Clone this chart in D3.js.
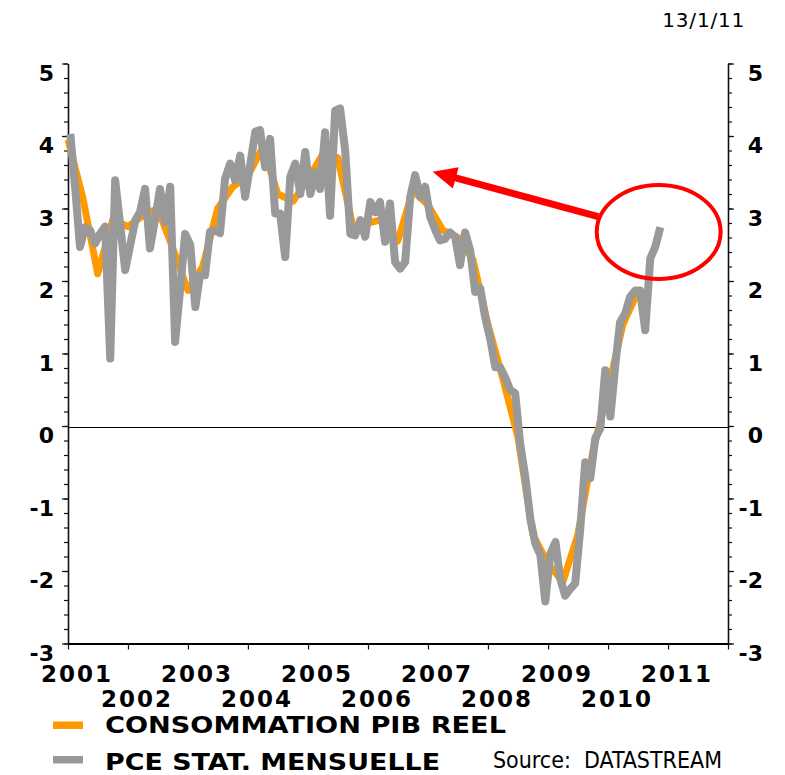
<!DOCTYPE html>
<html lang="fr">

<head>
    <meta charset="UTF-8">
    <title>Consommation PIB reel vs PCE</title>
    <script src="https://d3js.org/d3.v7.min.js"></script>
    <style>
        body { margin: 0; background: #fff; }
        text { font-family: "DejaVu Sans", Verdana, sans-serif; }
    </style>
</head>

<body>

    <svg></svg>

    <script>

        // Monthly PCE y/y growth (%), Jan 2001 -> Nov 2010
        const pceMonthly = [
            4.03, 3.25, 2.47, 2.74, 2.70, 2.52, 2.65, 2.75, 0.93, 3.39, 2.77, 2.15,
            2.50, 2.84, 2.95, 3.27, 2.45, 2.85, 3.27, 2.81, 3.30, 1.16, 1.90, 2.65,
            2.50, 1.64, 2.08, 2.08, 2.68, 2.70, 2.66, 3.41, 3.62, 3.39, 3.73, 3.16,
            3.60, 4.06, 4.08, 3.57, 3.96, 2.93, 2.93, 2.33, 3.44, 3.62, 3.20, 3.78,
            3.20, 3.50, 3.27, 4.05, 2.90, 4.35, 4.38, 3.80, 2.65, 2.63, 2.84, 2.61,
            3.09, 2.95, 3.09, 2.54, 3.07, 2.26, 2.17, 2.26, 3.16, 3.46, 3.16, 3.30,
            2.88, 2.70, 2.56, 2.58, 2.67, 2.61, 2.22, 2.67, 2.42, 1.85, 1.90, 1.50,
            1.20, 0.81, 0.81, 0.67, 0.50, 0.45, -0.24, -0.70, -1.28, -1.62, -1.78, -2.42,
            -1.76, -1.60, -2.10, -2.34, -2.25, -2.17, -1.44, -0.50, -0.72, -0.17, -0.03, 0.77,
            0.13, 0.86, 1.43, 1.55, 1.78, 1.87, 1.87, 1.32, 2.31, 2.47, 2.74
        ];

        // Quarterly real consumption (GDP accounts) y/y growth (%), Q1 2001 -> Q3 2010
        const pibQuarterly = [
            3.95, 3.15, 2.10, 2.85, 2.75, 2.90, 3.00, 2.45,
            1.87, 2.20, 3.00, 3.30, 3.45, 3.85, 3.20, 3.10,
            3.40, 3.75, 3.70, 2.75, 2.80, 2.85, 2.55, 3.25,
            3.05, 2.70, 2.60, 2.30, 1.40, 0.65, -0.15, -1.50,
            -1.90, -2.15, -1.50, -0.35, 0.50, 1.40, 1.85
        ];

        const yTicks = [-3, -2, -1, 0, 1, 2, 3, 4, 5];
        const yearTicks = [2001, 2002, 2003, 2004, 2005, 2006, 2007, 2008, 2009, 2010, 2011, 2012];
        const yearLabelsTop = ["2001", "2003", "2005", "2007", "2009", "2011"];
        const yearLabelsBottom = ["2002", "2004", "2006", "2008", "2010"];
        const seriesNames = ["CONSOMMATION PIB REEL", "PCE STAT. MENSUELLE"];
        const seriesColors = ["#ff9900", "#999999"];
        const dateLabel = "13/1/11";
        const sourceLabel = "Source:\u00a0\u00a0DATASTREAM";

        // Dimensions and margin
        const margin = { top: 63.5, right: 57, bottom: 131.5, left: 68 };
        const width = 785 - margin.left - margin.right;
        const height = 775 - margin.top - margin.bottom;

        const svgRoot = d3.select("svg")
            .attr("width", 785)
            .attr("height", 775);

        const svg = svgRoot.append("g")
            .attr("transform", `translate(${margin.left}, ${margin.top})`);

        // Scales
        const x = d3.scaleTime()
            .domain([new Date(2001, 0, 1), new Date(2012, 0, 1)])
            .range([0, width]);

        const y = d3.scaleLinear()
            .domain([-3, 5])
            .range([height, 0]);

        const monthly = pceMonthly.map((v, i) => ({ date: new Date(2001, i, 15), value: v }));
        const quarterly = pibQuarterly.map((v, i) => ({ date: new Date(2001, i * 3, 1), value: v }));

        // Zero line
        svg.append("line")
            .attr("x1", 0)
            .attr("x2", width)
            .attr("y1", Math.round(y(0)) + 0.5)
            .attr("y2", Math.round(y(0)) + 0.5)
            .attr("stroke", "#000")
            .attr("stroke-width", 1)
            .attr("shape-rendering", "crispEdges");

        // Y axes: minor ticks every 0.2, major every 1
        const minorTicks = d3.range(-3, 5.001, 0.2).map(d => +d.toFixed(1));

        function styleAxis(g) {
            g.select(".domain").attr("stroke", "#111").attr("stroke-width", 1.6);
            g.selectAll(".tick line").attr("stroke", "#111").attr("stroke-width", 1.2);
        }

        const labelStyle = sel => sel
            .attr("dy", "0.76em")
            .attr("fill", "#000")
            .style("font-size", "22px")
            .style("font-weight", "bold")
            .style("font-family", "'DejaVu Sans', Verdana, sans-serif");

        svg.append("g")
            .call(d3.axisLeft(y).tickValues(minorTicks).tickSize(4).tickSizeOuter(0).tickFormat(""))
            .call(styleAxis);

        svg.append("g")
            .call(d3.axisLeft(y).tickValues(yTicks).tickSize(6).tickSizeOuter(0).tickFormat(d => d))
            .call(styleAxis)
            .call(g => g.select(".domain").remove())
            .selectAll("text")
            .attr("x", -14)
            .call(labelStyle);

        svg.append("g")
            .attr("transform", `translate(${width}, 0)`)
            .call(d3.axisRight(y).tickValues(minorTicks).tickSize(4).tickSizeOuter(0).tickFormat(""))
            .call(styleAxis);

        svg.append("g")
            .attr("transform", `translate(${width}, 0)`)
            .call(d3.axisRight(y).tickValues(yTicks).tickSize(6).tickSizeOuter(0).tickFormat(d => d))
            .call(styleAxis)
            .call(g => g.select(".domain").remove())
            .selectAll("text")
            .attr("x", 35)
            .attr("text-anchor", "end")
            .call(labelStyle);

        // X axis (one tick per year)
        svg.append("g")
            .attr("transform", `translate(0, ${height})`)
            .call(d3.axisBottom(x).tickValues(yearTicks.map(yr => new Date(yr, 0, 1))).tickSize(6).tickSizeOuter(0).tickFormat(""))
            .call(g => g.select(".domain").attr("stroke", "#000").attr("stroke-width", 2.2))
            .call(g => g.selectAll(".tick line").attr("stroke", "#111").attr("stroke-width", 1.2));

        // Year labels, staggered on two rows
        const yearText = (labels, baseline) => {
            svg.append("g")
                .selectAll("text")
                .data(labels)
                .enter()
                .append("text")
                .attr("x", d => x(new Date(+d, 0, 1)) + 9)
                .attr("y", baseline)
                .attr("text-anchor", "middle")
                .style("font-size", "23px")
                .style("font-weight", "bold")
                .style("letter-spacing", "2px")
                .text(d => d);
        };
        yearText(yearLabelsTop, height + 38.5);
        yearText(yearLabelsBottom, height + 63.5);

        // Lines
        const line = d3.line()
            .x(d => x(d.date))
            .y(d => y(d.value));

        svg.append("path")
            .datum(quarterly)
            .attr("fill", "none")
            .attr("stroke", seriesColors[0])
            .attr("stroke-width", 7)
            .attr("stroke-linejoin", "round")
            .attr("d", line);

        svg.append("path")
            .datum(monthly)
            .attr("fill", "none")
            .attr("stroke", seriesColors[1])
            .attr("stroke-width", 8)
            .attr("stroke-linejoin", "round")
            .attr("d", line);

        // Red annotation: ellipse round the last points and arrow back to 2007
        const circ = { date: new Date(2010, 10, 5), value: 2.676, rYears: 1.033, rValue: 0.648 };
        const arrowFrom = { date: new Date(2009, 10, 2), value: 2.887 };
        const arrowTo = { date: new Date(2007, 0, 29), value: 3.508 };

        svg.append("ellipse")
            .attr("cx", x(circ.date))
            .attr("cy", y(circ.value))
            .attr("rx", x(new Date(2001, 0, 1 + circ.rYears * 365.25)) - x(new Date(2001, 0, 1)))
            .attr("ry", y(0) - y(circ.rValue))
            .attr("fill", "none")
            .attr("stroke", "#ff0000")
            .attr("stroke-width", 4);

        const tx = x(arrowFrom.date), ty = y(arrowFrom.value);
        const hx = x(arrowTo.date), hy = y(arrowTo.value);
        const len = Math.hypot(hx - tx, hy - ty);
        const ux = (hx - tx) / len, uy = (hy - ty) / len;
        const headLen = 24, headHalf = 11;
        const bx = hx - ux * headLen, by = hy - uy * headLen;

        svg.append("line")
            .attr("x1", tx)
            .attr("y1", ty)
            .attr("x2", bx + ux * 2)
            .attr("y2", by + uy * 2)
            .attr("stroke", "#ff0000")
            .attr("stroke-width", 7);

        svg.append("polygon")
            .attr("points", [
                [hx, hy],
                [bx - uy * headHalf, by + ux * headHalf],
                [bx + uy * headHalf, by - ux * headHalf]
            ].map(p => p.join(",")).join(" "))
            .attr("fill", "#ff0000");

        // Date at top right
        svgRoot.append("text")
            .attr("x", 745)
            .attr("y", 27)
            .attr("text-anchor", "end")
            .style("font-size", "20px")
            .style("letter-spacing", "0.8px")
            .text(dateLabel);

        // Legend
        const legend = svgRoot.append("g");
        const legendRows = [733, 770];

        legend.selectAll("rect")
            .data(seriesNames)
            .enter()
            .append("rect")
            .attr("x", 53)
            .attr("y", (d, i) => legendRows[i] - [11.5, 14][i])
            .attr("width", 30)
            .attr("height", 7.5)
            .attr("fill", (d, i) => seriesColors[i]);

        legend.selectAll("text")
            .data(seriesNames)
            .enter()
            .append("text")
            .attr("x", 105)
            .attr("y", (d, i) => legendRows[i])
            .attr("textLength", (d, i) => [401, 335][i])
            .attr("lengthAdjust", "spacingAndGlyphs")
            .style("font-size", "23.5px")
            .style("font-weight", "bold")
            .text(d => d);

        svgRoot.append("text")
            .attr("x", 493)
            .attr("y", 768)
            .attr("textLength", 229)
            .attr("lengthAdjust", "spacingAndGlyphs")
            .style("font-size", "23px")
            .style("font-family", "'DejaVu Sans Condensed', 'DejaVu Sans', sans-serif")
            .style("font-stretch", "condensed")
            .text(sourceLabel);

    </script>

</body>

</html>
